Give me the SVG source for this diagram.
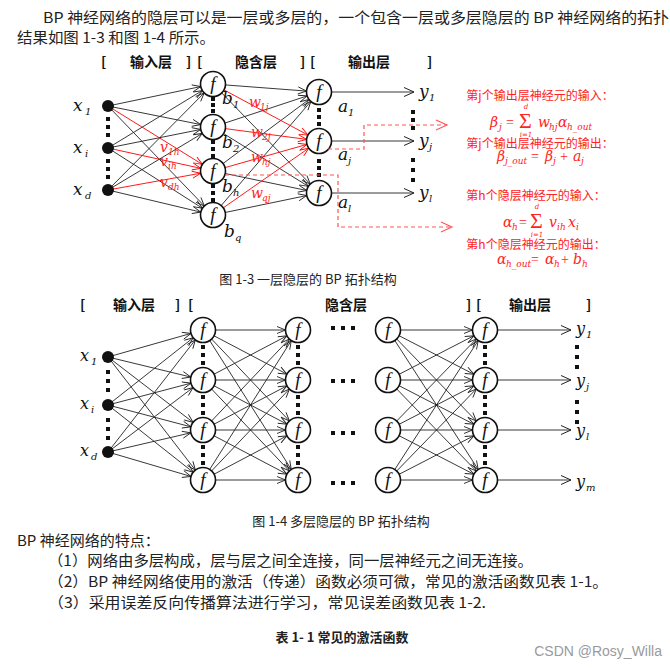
<svg xmlns="http://www.w3.org/2000/svg" width="670" height="668" viewBox="0 0 670 668">
<defs>
<style>
.t{font-family:"Noto Sans CJK SC","Liberation Sans",sans-serif;fill:#222;font-size:15px}
.h{font-family:"Noto Sans CJK SC","Liberation Sans",sans-serif;fill:#111;font-size:14px;font-weight:700}
.cap{font-family:"Noto Sans CJK SC","Liberation Sans",sans-serif;fill:#222;font-size:13px}
.m{font-family:"DejaVu Serif","Liberation Serif",serif;font-style:italic;font-size:17px;fill:#111}
.s{font-family:"DejaVu Serif","Liberation Serif",serif;font-style:italic;font-size:10px;fill:#111}
.rm{font-family:"DejaVu Serif","Liberation Serif",serif;font-style:italic;font-size:14px;fill:#f22}
.rs{font-family:"DejaVu Serif","Liberation Serif",serif;font-style:italic;font-size:9px;fill:#f22}
.rl{font-family:"DejaVu Serif","Liberation Serif",serif;font-style:italic;font-size:7px;fill:#f22;text-anchor:middle}
.rn{font-family:"Liberation Serif","DejaVu Serif",serif;font-size:14px;fill:#f22}
.sig{font-family:"Liberation Serif","DejaVu Serif",serif;font-size:22px;fill:#f22}
.rt{font-family:"Noto Sans CJK SC","Liberation Sans",sans-serif;fill:#f22;font-size:12px}
.f{font-family:"Liberation Serif","DejaVu Serif",serif;font-style:italic;font-size:19px;fill:#111;text-anchor:middle}
.b line{stroke:#222;stroke-width:0.9;marker-end:url(#ab)}
.b line.r{stroke:#f00;marker-end:url(#ar)}
.b line.o{marker-end:url(#ae)}
.n{fill:#fff;stroke:#111;stroke-width:1.6}
.d{fill:#111}
.dash{fill:none;stroke:#f55;stroke-width:1.2;stroke-dasharray:4 3;marker-end:url(#ad)}
</style>
<marker id="ab" markerUnits="userSpaceOnUse" markerWidth="30" markerHeight="30" orient="auto" overflow="visible"><path d="M-21,-3.5 L-12.5,0 L-21,3.5" fill="none" stroke="#222" stroke-width="0.9"/></marker>
<marker id="ar" markerUnits="userSpaceOnUse" markerWidth="30" markerHeight="30" orient="auto" overflow="visible"><path d="M-21,-3.5 L-12.5,0 L-21,3.5" fill="none" stroke="#f00" stroke-width="0.9"/></marker>
<marker id="ae" markerUnits="userSpaceOnUse" markerWidth="30" markerHeight="30" orient="auto" overflow="visible"><path d="M-10,-4.5 L0,0 L-10,4.5" fill="none" stroke="#222" stroke-width="1"/></marker>
<marker id="ad" markerUnits="userSpaceOnUse" markerWidth="30" markerHeight="30" orient="auto" overflow="visible"><path d="M-11,-5 L0,0 L-11,5" fill="none" stroke="#f55" stroke-width="1.1"/></marker>
</defs>
<rect width="670" height="668" fill="#fff"/>

<g id="intro">
<text class="t" x="43" y="23" textLength="626" lengthAdjust="spacingAndGlyphs">BP 神经网络的隐层可以是一层或多层的，一个包含一层或多层隐层的 BP 神经网络的拓扑</text>
<text class="t" x="17" y="43" textLength="198" lengthAdjust="spacingAndGlyphs">结果如图 1-3 和图 1-4 所示。</text>
</g>

<!-- Figure 1-3 -->
<g id="fig13-header">
<text class="h" x="101" y="67">[</text><text class="h" x="130" y="67">输入层</text>
<text class="h" x="186" y="67">]</text><text class="h" x="197" y="67">[</text>
<text class="h" x="235" y="67">隐含层</text>
<text class="h" x="300" y="67">]</text><text class="h" x="310" y="67">[</text>
<text class="h" x="348" y="67">输出层</text><text class="h" x="427" y="67">]</text>
</g>

<g id="fig13-connectors" class="b">
<line x1="108" y1="106" x2="213" y2="84"/>
<line x1="108" y1="106" x2="213" y2="127"/>
<line x1="108" y1="106" x2="213" y2="215"/>
<line x1="108" y1="148" x2="213" y2="84"/>
<line x1="108" y1="148" x2="213" y2="127"/>
<line x1="108" y1="148" x2="213" y2="215"/>
<line x1="108" y1="190" x2="213" y2="84"/>
<line x1="108" y1="190" x2="213" y2="127"/>
<line x1="108" y1="190" x2="213" y2="215"/>
<line x1="213" y1="84" x2="319" y2="92"/>
<line x1="213" y1="84" x2="319" y2="193"/>
<line x1="213" y1="127" x2="319" y2="92"/>
<line x1="213" y1="127" x2="319" y2="193"/>
<line x1="213" y1="171" x2="319" y2="92"/>
<line x1="213" y1="171" x2="319" y2="193"/>
<line x1="213" y1="215" x2="319" y2="92"/>
<line x1="213" y1="215" x2="319" y2="193"/>
<line class="r" x1="108" y1="106" x2="213" y2="171"/>
<line class="r" x1="108" y1="148" x2="213" y2="171"/>
<line class="r" x1="108" y1="190" x2="213" y2="171"/>
<line class="r" x1="213" y1="84" x2="319" y2="141"/>
<line class="r" x1="213" y1="127" x2="319" y2="141"/>
<line class="r" x1="213" y1="171" x2="319" y2="141"/>
<line class="r" x1="213" y1="215" x2="319" y2="141"/>
<line class="o" x1="319" y1="92" x2="414" y2="92"/>
<line class="o" x1="319" y1="141" x2="414" y2="141"/>
<line class="o" x1="319" y1="193" x2="414" y2="193"/>
</g>

<g id="fig13-x1"><circle class="d" cx="108" cy="106" r="6"/><text class="m" x="73" y="111">x</text><text class="s" x="85" y="115">1</text></g>
<g id="fig13-xi"><circle class="d" cx="108" cy="148" r="6"/><text class="m" x="73" y="153">x</text><text class="s" x="85" y="157">i</text></g>
<g id="fig13-xd"><circle class="d" cx="108" cy="190" r="6"/><text class="m" x="73" y="195">x</text><text class="s" x="85" y="199">d</text></g>
<g id="fig13-h1"><circle class="n" cx="213" cy="84" r="12.5"/><text class="f" x="213" y="90">f</text><text class="m" x="222" y="104">b</text><text class="s" x="233" y="108">1</text></g>
<g id="fig13-h2"><circle class="n" cx="213" cy="127" r="12.5"/><text class="f" x="213" y="133">f</text><text class="m" x="222" y="148">b</text><text class="s" x="233" y="152">2</text></g>
<g id="fig13-hh"><circle class="n" cx="213" cy="171" r="12.5"/><text class="f" x="213" y="177">f</text><text class="m" x="222" y="192">b</text><text class="s" x="233" y="196">h</text></g>
<g id="fig13-hq"><circle class="n" cx="213" cy="215" r="12.5"/><text class="f" x="213" y="221">f</text><text class="m" x="224" y="237">b</text><text class="s" x="235" y="241">q</text></g>
<g id="fig13-o1"><circle class="n" cx="319" cy="92" r="12.5"/><text class="f" x="319" y="98">f</text><text class="m" x="338" y="112">a</text><text class="s" x="348" y="116">1</text></g>
<g id="fig13-oj"><circle class="n" cx="319" cy="141" r="12.5"/><text class="f" x="319" y="147">f</text><text class="m" x="338" y="160">a</text><text class="s" x="348" y="164">j</text></g>
<g id="fig13-ol"><circle class="n" cx="319" cy="193" r="12.5"/><text class="f" x="319" y="199">f</text><text class="m" x="338" y="208">a</text><text class="s" x="348" y="212">l</text></g>
<g id="fig13-y">
<text class="m" x="419" y="97">y</text><text class="s" x="429" y="101">1</text>
<text class="m" x="419" y="146">y</text><text class="s" x="429" y="150">j</text>
<text class="m" x="419" y="198">y</text><text class="s" x="429" y="202">l</text>
</g>

<g id="fig13-weights">
<text class="rm" x="160" y="152">v</text><text class="rs" x="168" y="155">1h</text>
<text class="rm" x="160" y="166">v</text><text class="rs" x="168" y="169">ih</text>
<text class="rm" x="160" y="187">v</text><text class="rs" x="168" y="190">dh</text>
<text class="rm" x="249" y="107">w</text><text class="rs" x="260" y="110">1j</text>
<text class="rm" x="251" y="137">w</text><text class="rs" x="262" y="140">2j</text>
<text class="rm" x="251" y="162">w</text><text class="rs" x="262" y="165">hj</text>
<text class="rm" x="251" y="198">w</text><text class="rs" x="262" y="201">qj</text>
</g>

<g id="fig13-dots" class="d">
<rect x="106" y="117" width="4" height="4"/><rect x="106" y="125" width="4" height="4"/><rect x="106" y="133" width="4" height="4"/>
<rect x="106" y="159" width="4" height="4"/><rect x="106" y="167" width="4" height="4"/><rect x="106" y="175" width="4" height="4"/>
<rect x="211" y="97" width="4" height="4"/><rect x="211" y="103" width="4" height="4"/><rect x="211" y="109" width="4" height="4"/>
<rect x="211" y="140" width="4" height="4"/><rect x="211" y="147" width="4" height="4"/><rect x="211" y="154" width="4" height="4"/>
<rect x="211" y="184" width="4" height="4"/><rect x="211" y="191" width="4" height="4"/><rect x="211" y="198" width="4" height="4"/>
<rect x="317" y="108" width="4" height="4"/><rect x="317" y="115" width="4" height="4"/><rect x="317" y="122" width="4" height="4"/>
<rect x="317" y="159" width="4" height="4"/><rect x="317" y="166" width="4" height="4"/><rect x="317" y="173" width="4" height="4"/>
<rect x="411" y="110" width="4" height="4"/><rect x="411" y="118" width="4" height="4"/><rect x="411" y="126" width="4" height="4"/>
<rect x="411" y="158" width="4" height="4"/><rect x="411" y="168" width="4" height="4"/><rect x="411" y="178" width="4" height="4"/>
</g>

<g id="fig13-dashed">
<path class="dash" d="M328,149 H364 V125 H447"/>
<path class="dash" d="M225,175 H338 V227 H452"/>
</g>

<g id="fig13-notes">
<text class="rt" x="540" y="100" text-anchor="middle">第j个输出层神经元的输入：</text>
<text class="rm" x="490" y="127">β</text><text class="rs" x="499" y="130">j</text>
<text class="rn" x="506" y="127">=</text>
<text class="sig" x="519" y="128">Σ</text>
<text class="rl" x="526" y="109">d</text><text class="rl" x="526" y="137">i=1</text>
<text class="rm" x="538" y="127">w</text><text class="rs" x="549" y="130">hj</text>
<text class="rm" x="558" y="127">α</text><text class="rs" x="567" y="130">h_out</text>
<text class="rt" x="540" y="148" text-anchor="middle">第j个输出层神经元的输出：</text>
<text class="rm" x="497" y="161">β</text><text class="rs" x="505" y="164">j_out</text>
<text class="rn" x="531" y="161">=</text>
<text class="rm" x="545" y="161">β</text><text class="rs" x="553" y="164">j</text>
<text class="rn" x="560" y="161">+</text>
<text class="rm" x="573" y="161">a</text><text class="rs" x="581" y="164">j</text>
<text class="rt" x="536" y="200" text-anchor="middle">第h个隐层神经元的输入：</text>
<text class="rm" x="503" y="227">α</text><text class="rs" x="512" y="230">h</text>
<text class="rn" x="519" y="227">=</text>
<text class="sig" x="530" y="228">Σ</text>
<text class="rl" x="537" y="209">d</text><text class="rl" x="537" y="237">i=1</text>
<text class="rm" x="549" y="227">v</text><text class="rs" x="557" y="230">ih</text>
<text class="rm" x="568" y="227">x</text><text class="rs" x="576" y="230">i</text>
<text class="rt" x="536" y="249" text-anchor="middle">第h个隐层神经元的输出：</text>
<text class="rm" x="497" y="264">α</text><text class="rs" x="506" y="267">h_out</text>
<text class="rn" x="531" y="264">=</text>
<text class="rm" x="545" y="264">α</text><text class="rs" x="554" y="267">h</text>
<text class="rn" x="561" y="264">+</text>
<text class="rm" x="573" y="264">b</text><text class="rs" x="582" y="267">h</text>
</g>

<text class="cap" x="308" y="284" text-anchor="middle">图 1-3 一层隐层的 BP 拓扑结构</text>

<!-- Figure 1-4 -->
<g id="fig14-header">
<text class="h" x="80" y="310">[</text><text class="h" x="113" y="310">输入层</text>
<text class="h" x="175" y="310">]</text><text class="h" x="188" y="310">[</text>
<text class="h" x="325" y="310">隐含层</text>
<text class="h" x="466" y="310">]</text><text class="h" x="476" y="310">[</text>
<text class="h" x="509" y="310">输出层</text><text class="h" x="586" y="310">]</text>
</g>

<g id="fig14-connectors" class="b">
<line x1="108" y1="357" x2="203" y2="330"/><line x1="108" y1="357" x2="203" y2="380"/><line x1="108" y1="357" x2="203" y2="430"/><line x1="108" y1="357" x2="203" y2="480"/>
<line x1="108" y1="405" x2="203" y2="330"/><line x1="108" y1="405" x2="203" y2="380"/><line x1="108" y1="405" x2="203" y2="430"/><line x1="108" y1="405" x2="203" y2="480"/>
<line x1="108" y1="452" x2="203" y2="330"/><line x1="108" y1="452" x2="203" y2="380"/><line x1="108" y1="452" x2="203" y2="430"/><line x1="108" y1="452" x2="203" y2="480"/>
<line x1="203" y1="330" x2="298" y2="330"/><line x1="203" y1="330" x2="298" y2="380"/><line x1="203" y1="330" x2="298" y2="430"/><line x1="203" y1="330" x2="298" y2="480"/>
<line x1="203" y1="380" x2="298" y2="330"/><line x1="203" y1="380" x2="298" y2="380"/><line x1="203" y1="380" x2="298" y2="430"/><line x1="203" y1="380" x2="298" y2="480"/>
<line x1="203" y1="430" x2="298" y2="330"/><line x1="203" y1="430" x2="298" y2="380"/><line x1="203" y1="430" x2="298" y2="430"/><line x1="203" y1="430" x2="298" y2="480"/>
<line x1="203" y1="480" x2="298" y2="330"/><line x1="203" y1="480" x2="298" y2="380"/><line x1="203" y1="480" x2="298" y2="430"/><line x1="203" y1="480" x2="298" y2="480"/>
<line x1="388" y1="330" x2="485" y2="330"/><line x1="388" y1="330" x2="485" y2="380"/><line x1="388" y1="330" x2="485" y2="430"/><line x1="388" y1="330" x2="485" y2="480"/>
<line x1="388" y1="380" x2="485" y2="330"/><line x1="388" y1="380" x2="485" y2="380"/><line x1="388" y1="380" x2="485" y2="430"/><line x1="388" y1="380" x2="485" y2="480"/>
<line x1="388" y1="430" x2="485" y2="330"/><line x1="388" y1="430" x2="485" y2="380"/><line x1="388" y1="430" x2="485" y2="430"/><line x1="388" y1="430" x2="485" y2="480"/>
<line x1="388" y1="480" x2="485" y2="330"/><line x1="388" y1="480" x2="485" y2="380"/><line x1="388" y1="480" x2="485" y2="430"/><line x1="388" y1="480" x2="485" y2="480"/>
<line class="o" x1="485" y1="330" x2="571" y2="330"/>
<line class="o" x1="485" y1="380" x2="571" y2="380"/>
<line class="o" x1="485" y1="430" x2="571" y2="430"/>
<line class="o" x1="485" y1="480" x2="571" y2="480"/>
</g>

<g id="fig14-x1"><circle class="d" cx="108" cy="357" r="6"/><text class="m" x="80" y="361" style="font-size:16px">x</text><text class="s" x="91" y="365">1</text></g>
<g id="fig14-xi"><circle class="d" cx="108" cy="405" r="6"/><text class="m" x="80" y="409" style="font-size:16px">x</text><text class="s" x="91" y="413">i</text></g>
<g id="fig14-xd"><circle class="d" cx="108" cy="452" r="6"/><text class="m" x="80" y="456" style="font-size:16px">x</text><text class="s" x="91" y="460">d</text></g>

<g id="fig14-h1a"><circle class="n" cx="203" cy="330" r="12.5"/><text class="f" x="203" y="336">f</text></g>
<g id="fig14-h1b"><circle class="n" cx="203" cy="380" r="12.5"/><text class="f" x="203" y="386">f</text></g>
<g id="fig14-h1c"><circle class="n" cx="203" cy="430" r="12.5"/><text class="f" x="203" y="436">f</text></g>
<g id="fig14-h1d"><circle class="n" cx="203" cy="480" r="12.5"/><text class="f" x="203" y="486">f</text></g>
<g id="fig14-h2a"><circle class="n" cx="298" cy="330" r="12.5"/><text class="f" x="298" y="336">f</text></g>
<g id="fig14-h2b"><circle class="n" cx="298" cy="380" r="12.5"/><text class="f" x="298" y="386">f</text></g>
<g id="fig14-h2c"><circle class="n" cx="298" cy="430" r="12.5"/><text class="f" x="298" y="436">f</text></g>
<g id="fig14-h2d"><circle class="n" cx="298" cy="480" r="12.5"/><text class="f" x="298" y="486">f</text></g>
<g id="fig14-h3a"><circle class="n" cx="388" cy="330" r="12.5"/><text class="f" x="388" y="336">f</text></g>
<g id="fig14-h3b"><circle class="n" cx="388" cy="380" r="12.5"/><text class="f" x="388" y="386">f</text></g>
<g id="fig14-h3c"><circle class="n" cx="388" cy="430" r="12.5"/><text class="f" x="388" y="436">f</text></g>
<g id="fig14-h3d"><circle class="n" cx="388" cy="480" r="12.5"/><text class="f" x="388" y="486">f</text></g>
<g id="fig14-oa"><circle class="n" cx="485" cy="330" r="12.5"/><text class="f" x="485" y="336">f</text></g>
<g id="fig14-ob"><circle class="n" cx="485" cy="380" r="12.5"/><text class="f" x="485" y="386">f</text></g>
<g id="fig14-oc"><circle class="n" cx="485" cy="430" r="12.5"/><text class="f" x="485" y="436">f</text></g>
<g id="fig14-od"><circle class="n" cx="485" cy="480" r="12.5"/><text class="f" x="485" y="486">f</text></g>
<g id="fig14-y">
<text class="m" x="576" y="334" style="font-size:16px">y</text><text class="s" x="586" y="338">1</text>
<text class="m" x="576" y="386" style="font-size:16px">y</text><text class="s" x="586" y="390">j</text>
<text class="m" x="576" y="436" style="font-size:16px">y</text><text class="s" x="586" y="440">l</text>
<text class="m" x="576" y="487" style="font-size:16px">y</text><text class="s" x="586" y="491">m</text>
</g>

<g id="fig14-dots" class="d">
<rect x="106" y="370" width="4" height="4"/><rect x="106" y="379" width="4" height="4"/><rect x="106" y="388" width="4" height="4"/>
<rect x="106" y="418" width="4" height="4"/><rect x="106" y="427" width="4" height="4"/><rect x="106" y="436" width="4" height="4"/>
<rect x="201" y="345" width="4" height="4"/><rect x="201" y="353" width="4" height="4"/><rect x="201" y="361" width="4" height="4"/>
<rect x="201" y="395" width="4" height="4"/><rect x="201" y="403" width="4" height="4"/><rect x="201" y="411" width="4" height="4"/>
<rect x="201" y="445" width="4" height="4"/><rect x="201" y="453" width="4" height="4"/><rect x="201" y="461" width="4" height="4"/>
<rect x="296" y="345" width="4" height="4"/><rect x="296" y="353" width="4" height="4"/><rect x="296" y="361" width="4" height="4"/>
<rect x="296" y="395" width="4" height="4"/><rect x="296" y="403" width="4" height="4"/><rect x="296" y="411" width="4" height="4"/>
<rect x="296" y="445" width="4" height="4"/><rect x="296" y="453" width="4" height="4"/><rect x="296" y="461" width="4" height="4"/>
<rect x="483" y="345" width="4" height="4"/><rect x="483" y="353" width="4" height="4"/><rect x="483" y="361" width="4" height="4"/>
<rect x="483" y="395" width="4" height="4"/><rect x="483" y="403" width="4" height="4"/><rect x="483" y="411" width="4" height="4"/>
<rect x="483" y="445" width="4" height="4"/><rect x="483" y="453" width="4" height="4"/><rect x="483" y="461" width="4" height="4"/>
<rect x="575" y="345" width="4" height="4"/><rect x="575" y="355" width="4" height="4"/><rect x="575" y="365" width="4" height="4"/>
<rect x="575" y="400" width="4" height="4"/><rect x="575" y="410" width="4" height="4"/><rect x="575" y="420" width="4" height="4"/>
<rect x="331" y="326" width="4" height="4"/><rect x="341" y="326" width="4" height="4"/><rect x="351" y="326" width="4" height="4"/>
<rect x="331" y="379" width="4" height="4"/><rect x="341" y="379" width="4" height="4"/><rect x="351" y="379" width="4" height="4"/>
<rect x="331" y="431" width="4" height="4"/><rect x="341" y="431" width="4" height="4"/><rect x="351" y="431" width="4" height="4"/>
<rect x="331" y="481" width="4" height="4"/><rect x="341" y="481" width="4" height="4"/><rect x="351" y="481" width="4" height="4"/>
</g>

<text class="cap" x="341" y="526" text-anchor="middle">图 1-4 多层隐层的 BP 拓扑结构</text>

<g id="notes">
<text class="t" x="17" y="546">BP 神经网络的特点：</text>
<text class="t" x="48" y="566" textLength="485" lengthAdjust="spacingAndGlyphs">（1）网络由多层构成，层与层之间全连接，同一层神经元之间无连接。</text>
<text class="t" x="48" y="587" textLength="560" lengthAdjust="spacingAndGlyphs">（2）BP 神经网络使用的激活（传递）函数必须可微，常见的激活函数见表 1-1。</text>
<text class="t" x="48" y="608" textLength="438" lengthAdjust="spacingAndGlyphs">（3）采用误差反向传播算法进行学习，常见误差函数见表 1-2.</text>
<text class="cap" x="342" y="642" text-anchor="middle" style="font-weight:700">表 1- 1 常见的激活函数</text>
<text x="662" y="656" text-anchor="end" font-family="Liberation Sans, sans-serif" font-size="14" fill="#9a9a9a">CSDN @Rosy_Willa</text>
</g>
</svg>
